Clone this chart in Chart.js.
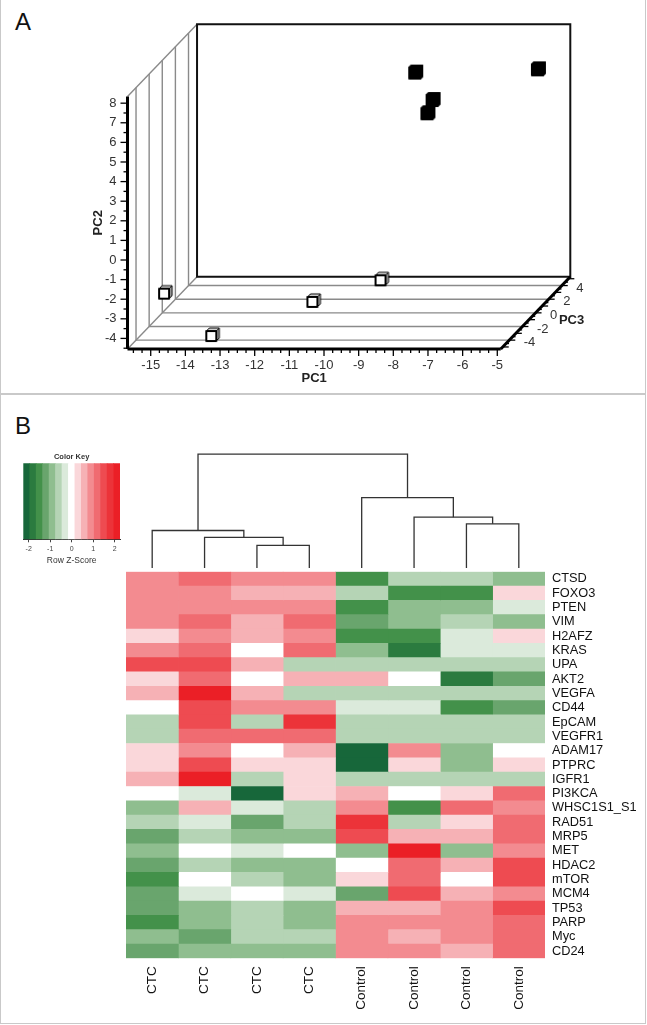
<!DOCTYPE html>
<html>
<head>
<meta charset="utf-8">
<title>PCA and expression heatmap</title>
<script src="https://cdn.jsdelivr.net/npm/chart.js@4.4.1/dist/chart.umd.min.js"></script>
<style>
  body { margin: 0; background: #fff; }
  #page { position: relative; width: 647px; height: 1025px; overflow: hidden; }
  .panel { position: absolute; left: 0; width: 646px; box-sizing: border-box; border: 1px solid #c9c9c9; }
  .tag { position: absolute; font: 24px/1 "Liberation Sans", Arial, sans-serif; color: #111; }
  canvas { position: absolute; }
</style>
</head>
<body>
<div id="page">
  <div class="panel" style="top:-1px;height:395px"></div>
  <div class="panel" style="top:394px;height:630px"></div>
  <div class="tag" style="left:15px;top:10px">A</div>
  <div class="tag" style="left:15px;top:414px">B</div>
  <canvas id="pca" width="647" height="393" style="left:0;top:0"></canvas>
  <canvas id="key" width="115" height="118" style="left:15px;top:448px"></canvas>
  <canvas id="dendro" width="419" height="120" style="left:126px;top:448px"></canvas>
  <canvas id="heat" width="647" height="456" style="left:0;top:566px"></canvas>
</div>
<script>
// ---- panel A: PCA scores ----
const ctcPC1 = [-15.4, -13.47, -11.31, -10.1];
const ctcPC2 = [-3.11, -4.23, -3.88, -4.17];
const ctcPC3 = [-1, -4, 0, 4];
const controlPC1 = [-8.75, -8.06, -8.02, -5.4];
const controlPC2 = [7.07, 6.02, 5.69, 6.89];
const controlPC3 = [2, 1, 0, 3];

const pc1Ticks = [-15, -14, -13, -12, -11, -10, -9, -8, -7, -6, -5];
const pc2Ticks = [-4, -3, -2, -1, 0, 1, 2, 3, 4, 5, 6, 7, 8];
const pc3Ticks = [-4, -2, 0, 2, 4];
const pc1Range = [-15.67, -4.9];
const pc2Range = [-4.54, 8.34];
const pc3Range = [-5.3, 5.3];

// ---- panel B: heatmap ----
const samples = ['CTC', 'CTC', 'CTC', 'CTC', 'Control', 'Control', 'Control', 'Control'];
const genes = ['CTSD', 'FOXO3', 'PTEN', 'VIM', 'H2AFZ', 'KRAS', 'UPA', 'AKT2', 'VEGFA', 'CD44',
  'EpCAM', 'VEGFR1', 'ADAM17', 'PTPRC', 'IGFR1', 'PI3KCA', 'WHSC1S1_S1', 'RAD51', 'MRP5', 'MET',
  'HDAC2', 'mTOR', 'MCM4', 'TP53', 'PARP', 'Myc', 'CD24'];
const zScore = [
  [0.9, 1.2, 0.9, 0.9, -1.5, -0.6, -0.6, -0.9],
  [0.9, 0.9, 0.6, 0.6, -0.6, -1.5, -1.5, 0.3],
  [0.9, 0.9, 0.9, 0.9, -1.5, -0.9, -0.9, -0.3],
  [0.9, 1.2, 0.6, 1.2, -1.2, -0.9, -0.6, -0.9],
  [0.3, 0.9, 0.6, 0.9, -1.5, -1.5, -0.3, 0.3],
  [0.9, 1.2, 0, 1.2, -0.9, -1.8, -0.3, -0.3],
  [1.5, 1.5, 0.6, -0.6, -0.6, -0.6, -0.6, -0.6],
  [0.3, 1.2, 0, 0.6, 0.6, 0, -1.8, -1.2],
  [0.6, 2.1, 0.6, -0.6, -0.6, -0.6, -0.6, -0.6],
  [0, 1.5, 0.9, 0.9, -0.3, -0.3, -1.5, -1.2],
  [-0.6, 1.5, -0.6, 1.8, -0.6, -0.6, -0.6, -0.6],
  [-0.6, 1.2, 1.2, 1.2, -0.6, -0.6, -0.6, -0.6],
  [0.3, 0.9, 0, 0.6, -2.1, 0.9, -0.9, 0],
  [0.3, 1.5, 0.3, 0.3, -2.1, 0.3, -0.9, 0.3],
  [0.6, 2.1, -0.6, 0.3, -0.6, -0.6, -0.6, -0.6],
  [0, -0.3, -2.1, 0.3, 0.6, 0, 0.3, 1.2],
  [-0.9, 0.6, -0.3, -0.6, 0.9, -1.5, 1.2, 0.9],
  [-0.6, -0.3, -1.2, -0.6, 1.8, -0.6, 0.3, 1.2],
  [-1.2, -0.6, -0.9, -0.9, 1.5, 0.6, 0.6, 1.2],
  [-0.9, 0, -0.3, 0, -0.9, 2.1, -0.9, 0.9],
  [-1.2, -0.6, -0.9, -0.9, 0, 1.2, 0.6, 1.5],
  [-1.5, 0, -0.6, -0.9, 0.3, 1.2, 0, 1.5],
  [-1.2, -0.3, 0, -0.3, -1.2, 1.5, 0.6, 0.9],
  [-1.2, -0.9, -0.6, -0.9, 0.6, 0.6, 0.9, 1.5],
  [-1.5, -0.9, -0.6, -0.9, 0.9, 0.9, 0.9, 1.2],
  [-0.9, -1.2, -0.6, -0.6, 0.9, 0.6, 0.9, 1.2],
  [-1.2, -0.9, -0.9, -0.9, 0.9, 0.9, 0.6, 1.2]
];
// column dendrogram, hclust style: negative = leaf (1-based), positive = earlier merge
const mergeLeft = [-3, -2, -1, -7, -6, -5, 3];
const mergeRight = [-4, 1, 2, -8, 4, 5, 6];
const mergeHeight = [1.98, 2.68, 3.29, 3.88, 4.46, 6.18, 10];

// color key
const keyBreaks = [-2.25, -1.95, -1.65, -1.35, -1.05, -0.75, -0.45, -0.15, 0.15, 0.45, 0.75, 1.05, 1.35, 1.65, 1.95, 2.25];
const keyColors = ['#17673a', '#2b7b3f', '#43914a', '#69a56d', '#8fbe8f', '#b5d4b5', '#dbeadb', '#ffffff',
  '#fad7da', '#f6b1b5', '#f38b90', '#f06b71', '#ee4b51', '#ec3339', '#eb1f26'];

Chart.defaults.font.family = '"Liberation Sans", Arial, sans-serif';
Chart.defaults.color = '#111';

function zColor(z) {
  let i = 0;
  while (i < keyColors.length - 1 && z >= keyBreaks[i + 1]) i++;
  return keyColors[i];
}

// oblique projection: PC3 pushes points up and to the right
const depthX = 0.1893, depthY = 0.348;
function project(a, b, c) {
  const d = c - pc3Range[0];
  return { x: a + d * depthX, y: b + d * depthY };
}

function cubeMarker(filled) {
  const c = document.createElement('canvas');
  c.width = 18; c.height = 18;
  const g = c.getContext('2d');
  g.lineJoin = 'round';
  g.strokeStyle = '#000';
  const s = filled ? 11 : 10, o = filled ? 2 : 3, x = 3, y = 3;
  g.lineWidth = filled ? 2 : 1;
  g.fillStyle = filled ? '#000' : '#d8d8d8';
  g.beginPath(); g.moveTo(x, y + o); g.lineTo(x + o, y); g.lineTo(x + o + s, y); g.lineTo(x + s, y + o); g.closePath(); g.fill(); g.stroke();
  g.fillStyle = filled ? '#000' : '#aaa';
  g.beginPath(); g.moveTo(x + s, y + o); g.lineTo(x + s + o, y); g.lineTo(x + s + o, y + s); g.lineTo(x + s, y + s + o); g.closePath(); g.fill(); g.stroke();
  g.lineWidth = 2;
  g.fillStyle = filled ? '#000' : '#fff';
  g.beginPath();
  g.rect(x, y + o, s, s);
  g.fill(); g.stroke();
  return c;
}

const box3d = {
  id: 'box3d',
  beforeDatasetsDraw(chart) {
    const { ctx } = chart;
    const sx = chart.scales.x, sy = chart.scales.y;
    const P = (a, b, c) => { const q = project(a, b, c); return [sx.getPixelForValue(q.x), sy.getPixelForValue(q.y)]; };
    const [a0, a1] = pc1Range, [b0, b1] = pc2Range, [c0, c1] = pc3Range;
    const seg = (p, q, color, w) => {
      ctx.strokeStyle = color; ctx.lineWidth = w;
      ctx.beginPath(); ctx.moveTo(p[0], p[1]); ctx.lineTo(q[0], q[1]); ctx.stroke();
    };
    ctx.save();
    const grey = '#8a8a8a';
    pc3Ticks.forEach(c => {
      seg(P(a0, b0, c), P(a0, b1, c), grey, 1.4);
      seg(P(a0, b0, c), P(a1, b0, c), grey, 1.4);
    });
    seg(P(a0, b1, c0), P(a0, b1, c1), grey, 1.4);
    seg(P(a0, b0, c0), P(a0, b0, c1), grey, 1.4);

    // back wall
    ctx.strokeStyle = '#111'; ctx.lineWidth = 2;
    ctx.beginPath();
    [P(a0, b0, c1), P(a1, b0, c1), P(a1, b1, c1), P(a0, b1, c1)].forEach((p, i) => i ? ctx.lineTo(p[0], p[1]) : ctx.moveTo(p[0], p[1]));
    ctx.closePath(); ctx.stroke();

    // axes
    seg(P(a0, b0, c0), P(a0, b1, c0), '#000', 3);
    seg(P(a0, b0, c0), P(a1, b0, c0), '#000', 3);
    seg(P(a1, b0, c0), P(a1, b0, c1), '#000', 3);

    // minor / major ticks
    for (let v = Math.ceil(a0 * 4) / 4; v <= a1 + 1e-9; v += 0.25) {
      const p = P(v, b0, c0), len = Math.abs(v - Math.round(v)) < 1e-6 ? 7 : 4;
      seg(p, [p[0], p[1] + len], '#000', 1.3);
    }
    for (let v = Math.ceil(b0 * 2) / 2; v <= b1 + 1e-9; v += 0.5) {
      const p = P(a0, v, c0), len = Math.abs(v - Math.round(v)) < 1e-6 ? 7 : 4;
      seg(p, [p[0] - len, p[1]], '#000', 1.3);
    }
    for (let v = Math.ceil(c0 * 2) / 2; v <= c1 + 1e-9; v += 0.5) {
      const p = P(a1, b0, v), len = Math.abs(v - Math.round(v)) < 1e-6 ? 6 : 3;
      seg(p, [p[0] + len, p[1]], '#000', 1.3);
    }

    // tick labels
    ctx.fillStyle = '#333';
    ctx.font = '13px "Liberation Sans", Arial, sans-serif';
    ctx.textAlign = 'center'; ctx.textBaseline = 'middle';
    pc1Ticks.forEach(v => { const p = P(v, b0, c0); ctx.fillText(String(v), p[0], p[1] + 16); });
    ctx.textAlign = 'right';
    pc2Ticks.forEach(v => { const p = P(a0, v, c0); ctx.fillText(String(v), p[0] - 11, p[1]); });
    ctx.textAlign = 'left';
    pc3Ticks.forEach(v => { const p = P(a1, b0, v); ctx.fillText(String(v), p[0] + 14.5, p[1] + 2.5); });

    // axis titles
    ctx.fillStyle = '#222';
    ctx.font = 'bold 13px "Liberation Sans", Arial, sans-serif';
    ctx.textAlign = 'center';
    const f0 = P(a0, b0, c0), f1 = P(a1, b0, c0), ft = P(a0, b1, c0), fz = P(a1, b0, 0);
    ctx.fillText('PC1', (f0[0] + f1[0]) / 2, f0[1] + 29.5);
    ctx.fillText('PC3', fz[0] + 36, fz[1] + 8);
    ctx.translate(f0[0] - 29, (f0[1] + ft[1]) / 2);
    ctx.rotate(-Math.PI / 2);
    ctx.fillText('PC2', 0, 0);
    ctx.restore();
  }
};

new Chart(document.getElementById('pca'), {
  type: 'scatter',
  data: {
    datasets: [
      { label: 'CTC', data: ctcPC1.map((v, i) => project(v, ctcPC2[i], ctcPC3[i])), pointStyle: cubeMarker(false), pointRadius: 7, clip: false },
      { label: 'Control', data: controlPC1.map((v, i) => project(v, controlPC2[i], controlPC3[i])), pointStyle: cubeMarker(true), pointRadius: 7, clip: false }
    ]
  },
  options: {
    responsive: false,
    animation: false,
    layout: { padding: { left: 127.5, right: 76.7, top: 24.2, bottom: 44 } },
    plugins: { legend: { display: false }, tooltip: { enabled: false } },
    scales: {
      x: { display: false, min: pc1Range[0], max: project(pc1Range[1], 0, pc3Range[1]).x },
      y: { display: false, min: pc2Range[0], max: project(0, pc2Range[1], pc3Range[1]).y }
    }
  },
  plugins: [box3d]
});

// color key
new Chart(document.getElementById('key'), {
  type: 'bar',
  data: {
    labels: ['Color Key'],
    datasets: [{
      data: keyColors.map((c, i) => ({ x: [keyBreaks[i], keyBreaks[i + 1]], y: 'Color Key' })),
      backgroundColor: keyColors,
      borderWidth: 0,
      barPercentage: 1,
      categoryPercentage: 1
    }]
  },
  options: {
    indexAxis: 'y',
    responsive: false,
    animation: false,
    layout: { padding: { left: 8.3, right: 10, top: 0, bottom: 0 } },
    plugins: {
      legend: { display: false },
      tooltip: { enabled: false },
      title: { display: true, text: 'Color Key', color: '#333', font: { size: 7.5, weight: 'bold' }, padding: { top: 4, bottom: 2.3 } }
    },
    scales: {
      y: { display: false },
      x: {
        min: keyBreaks[0], max: keyBreaks[keyBreaks.length - 1],
        grid: { drawOnChartArea: false, tickLength: 3, color: '#444' },
        border: { color: '#333', width: 1 },
        ticks: { stepSize: 1, includeBounds: false, padding: 3, color: '#444', font: { size: 7 } },
        title: { display: true, text: 'Row Z-Score', color: '#333', font: { size: 8.5 }, padding: 0 },
        afterFit(s) { s.height = 26.7; }
      }
    }
  }
});

// column dendrogram
function dendroSegments() {
  const nodeX = [], nodeH = [];
  const pos = id => id < 0 ? [-id - 0.5, 0] : [nodeX[id - 1], nodeH[id - 1]];
  return mergeLeft.map((l, k) => {
    const [xl, hl] = pos(l), [xr, hr] = pos(mergeRight[k]), h = mergeHeight[k];
    nodeX.push((xl + xr) / 2); nodeH.push(h);
    return [{ x: xl, y: hl }, { x: xl, y: h }, { x: xr, y: h }, { x: xr, y: hr }];
  });
}

new Chart(document.getElementById('dendro'), {
  type: 'scatter',
  data: {
    datasets: dendroSegments().map(seg => ({ data: seg, showLine: true, borderColor: '#333', borderWidth: 1.3, pointRadius: 0 }))
  },
  options: {
    responsive: false,
    animation: false,
    layout: { padding: 0 },
    plugins: { legend: { display: false }, tooltip: { enabled: false } },
    scales: {
      x: { display: false, min: 0, max: samples.length },
      y: { display: false, min: 0, max: 10.53 }
    }
  }
});

// heatmap: one floating bar per cell
new Chart(document.getElementById('heat'), {
  type: 'bar',
  data: {
    labels: genes,
    datasets: samples.map((s, j) => ({
      label: s,
      data: genes.map(() => [j, j + 1]),
      backgroundColor: genes.map((g, i) => zColor(zScore[i][j])),
      borderWidth: 0,
      barPercentage: 1,
      categoryPercentage: 1,
      grouped: false
    }))
  },
  options: {
    indexAxis: 'y',
    responsive: false,
    animation: false,
    layout: { padding: { left: 126, right: 0, top: 5.7, bottom: 0 } },
    plugins: { legend: { display: false }, tooltip: { enabled: false } },
    scales: {
      x: { display: false, min: 0, max: samples.length },
      y: {
        position: 'right',
        grid: { display: false, drawTicks: false },
        border: { display: false },
        ticks: { autoSkip: false, padding: 7, color: '#111', font: { size: 12.8, lineHeight: 1 } },
        afterFit(s) { s.width = 102; s.paddingTop = 0; s.paddingBottom = 0; }
      },
      x2: {
        type: 'category',
        labels: samples,
        position: 'bottom',
        offset: true,
        grid: { display: false, drawTicks: false },
        border: { display: false },
        ticks: { autoSkip: false, minRotation: 90, maxRotation: 90, padding: 8, color: '#111', font: { size: 13.5 } },
        afterFit(s) { s.height = 63.7; s.paddingLeft = 0; s.paddingRight = 0; }
      }
    }
  }
});
</script>
</body>
</html>
